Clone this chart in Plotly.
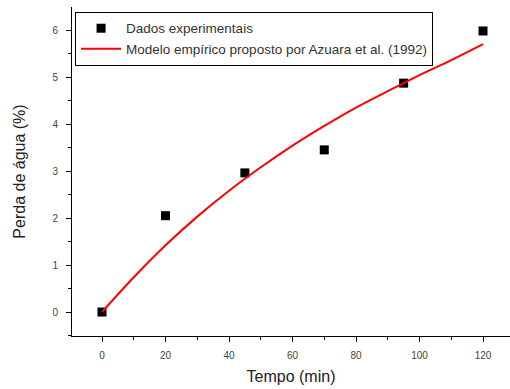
import plotly.graph_objects as go

tempo_exp = [0, 20, 45, 70, 95, 120]
perda_exp = [0.0, 2.05, 2.96, 3.45, 4.87, 5.98]

tempo_mod = [0, 10, 20, 30, 40, 50, 60, 70, 80, 90, 100, 110, 120]
perda_mod = [0.0, 0.74, 1.42, 2.03, 2.58, 3.08, 3.54, 3.96, 4.35, 4.70, 5.04, 5.36, 5.70]

x_ticks = [0, 20, 40, 60, 80, 100, 120]
y_ticks = [0, 1, 2, 3, 4, 5, 6]

font = "Liberation Sans, Arial, sans-serif"

fig = go.Figure()
fig.add_trace(go.Scatter(
    x=tempo_exp, y=perda_exp, mode="markers",
    name="Dados experimentais",
    marker=dict(symbol="square", size=9, color="black"),
))
fig.add_trace(go.Scatter(
    x=tempo_mod, y=perda_mod, mode="lines", line_shape="spline",
    name="Modelo empírico proposto por Azuara et al. (1992)",
    line=dict(color="#ff0000", width=2),
))

fig.update_layout(
    width=510, height=389,
    margin=dict(l=72, r=0, t=7, b=53),
    paper_bgcolor="white", plot_bgcolor="white",
    font=dict(family=font, color="#333333"),
    showlegend=True,
    legend=dict(
        x=0.007, y=0.985, xanchor="left", yanchor="top",
        bordercolor="black", borderwidth=1, bgcolor="white",
        font=dict(size=13.5, color="#333333", family=font),
        tracegroupgap=0, itemwidth=40,
    ),
    xaxis=dict(
        range=[-9.45, 128.5], tickvals=x_ticks,
        showgrid=False, zeroline=False, showline=True,
        linecolor="black", linewidth=1,
        ticks="outside", ticklen=5, tickcolor="black",
        minor=dict(dtick=10, tick0=0, ticks="outside", ticklen=3, tickcolor="black"),
        tickfont=dict(size=10, color="#444444"),
        ticklabelstandoff=5,
        title=dict(text="Tempo (min)", font=dict(size=16, color="#222222"), standoff=10),
    ),
    yaxis=dict(
        range=[-0.51, 6.49], tickvals=y_ticks,
        showgrid=False, zeroline=False, showline=True,
        linecolor="black", linewidth=1,
        ticks="outside", ticklen=5, tickcolor="black",
        minor=dict(dtick=0.5, tick0=0, ticks="outside", ticklen=3, tickcolor="black"),
        tickfont=dict(size=10, color="#444444"),
        ticklabelstandoff=6,
        title=dict(text="Perda de água (%)", font=dict(size=16, color="#222222"), standoff=22),
    ),
)

fig.write_html("out.html")
